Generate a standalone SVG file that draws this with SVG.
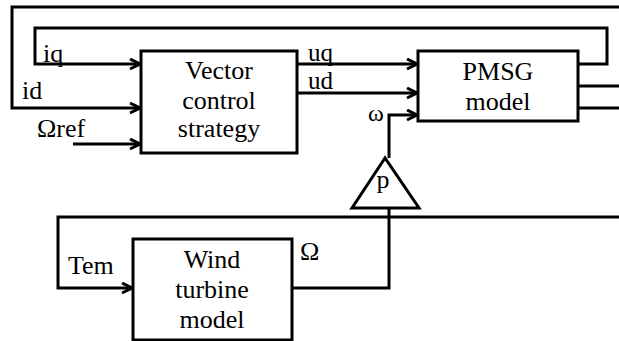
<svg xmlns="http://www.w3.org/2000/svg" width="619" height="341" viewBox="0 0 619 341">
<defs>
<style>
.ln{fill:none;stroke:#000;stroke-width:3;stroke-linejoin:miter;}
.bx{fill:#fff;stroke:#000;stroke-width:3;}
text{font-family:'Liberation Serif','Times New Roman',serif;font-size:26px;fill:#000;}
.c{text-anchor:middle;}
.s{font-size:24px;}
.u{font-size:25px;}
</style>
<marker id="ah" markerWidth="14" markerHeight="14" refX="11" refY="6" orient="auto" markerUnits="userSpaceOnUse">
<path d="M1,1 L11,6 L1,11" fill="none" stroke="#000" stroke-width="3"/>
</marker>
</defs>
<g id="connectors">
<path class="ln" d="M619,7 H12 V108 H140" marker-end="url(#ah)"/>
<path class="ln" d="M578,64 H607 V28 H35 V64 H140" marker-end="url(#ah)"/>
<path class="ln" d="M73,144 H140" marker-end="url(#ah)"/>
<path class="ln" d="M297,64 H417" marker-end="url(#ah)"/>
<path class="ln" d="M297,93 H417" marker-end="url(#ah)"/>
<path class="ln" d="M578,86 H619"/>
<path class="ln" d="M578,108 H619"/>
<path class="ln" d="M389,158 V115 H417" marker-end="url(#ah)"/>
<path class="ln" d="M619,217 H58 V288 H132" marker-end="url(#ah)"/>
<path class="ln" d="M292,288 H389 V208"/>
</g>
<g id="vector-control">
<rect class="bx" x="141" y="51" width="156" height="102"/>
<text class="c" x="219" y="79">Vector</text>
<text class="c" x="219" y="109">control</text>
<text class="c" x="219" y="137">strategy</text>
</g>
<g id="pmsg">
<rect class="bx" x="418" y="51" width="160" height="70"/>
<text class="c" x="498" y="80">PMSG</text>
<text class="c" x="498" y="110">model</text>
</g>
<g id="gain-p">
<polygon class="bx" points="385,158 352,208 419,208"/>
<text class="c" x="383" y="188">p</text>
</g>
<g id="wind-turbine">
<rect class="bx" x="133" y="239" width="159" height="101"/>
<text class="c" x="212" y="268">Wind</text>
<text class="c" x="212" y="298">turbine</text>
<text class="c" x="212" y="328">model</text>
</g>
<g id="labels">
<text x="43" y="62">iq</text>
<text x="22" y="99">id</text>
<text x="37" y="137">Ωref</text>
<text class="u" x="308" y="61">uq</text>
<text class="u" x="308" y="89">ud</text>
<text class="s" x="368" y="121">ω</text>
<text x="68" y="274">Tem</text>
<text x="300" y="260">Ω</text>
</g>
</svg>
